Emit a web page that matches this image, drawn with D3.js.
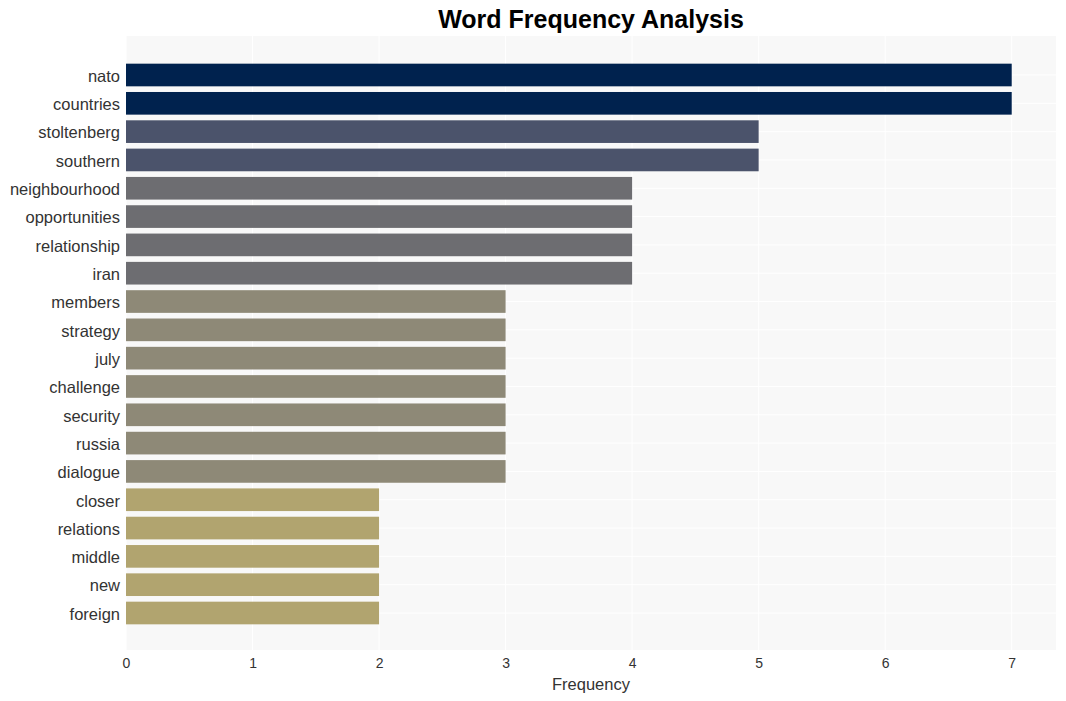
<!DOCTYPE html>
<html><head><meta charset="utf-8">
<script src="https://cdn.jsdelivr.net/npm/d3@7"></script>
<style>body{margin:0;background:#fff}svg{display:block}</style>
</head><body>
<svg id="c" width="1066" height="701"></svg>
<script>
const words = ["nato","countries","stoltenberg","southern","neighbourhood","opportunities","relationship","iran","members","strategy","july","challenge","security","russia","dialogue","closer","relations","middle","new","foreign"];
const counts = [7,7,5,5,4,4,4,4,3,3,3,3,3,3,3,2,2,2,2,2];
const xTicks = [0,1,2,3,4,5,6,7];
const colorByCount = {7:"#00224e",5:"#4b536b",4:"#6d6d71",3:"#8e8977",2:"#b1a46f"};

const svg = d3.select("#c");
const L=126, R=1056, T=36, B=650;
const x = d3.scaleLinear().domain([0,7.35]).range([L,R]);
const y = d3.scaleBand().domain(words).range([60.84,627.16]).paddingInner(0.2).paddingOuter(0.1);

svg.append("rect").attr("x",L).attr("y",T).attr("width",R-L).attr("height",B-T).attr("fill","#f8f8f8");
svg.append("g").selectAll("line").data(xTicks).join("line")
  .attr("x1",d=>x(d)).attr("x2",d=>x(d)).attr("y1",T).attr("y2",B)
  .attr("stroke","#fff").attr("stroke-width",1);
svg.append("g").selectAll("line").data(words).join("line")
  .attr("x1",L).attr("x2",R).attr("y1",d=>y(d)+y.bandwidth()/2).attr("y2",d=>y(d)+y.bandwidth()/2)
  .attr("stroke","#fff").attr("stroke-width",1);

svg.append("g").selectAll("rect").data(words).join("rect")
  .attr("x",x(0)).attr("y",d=>y(d)).attr("height",y.bandwidth())
  .attr("width",(d,i)=>x(counts[i])-x(0))
  .attr("fill",(d,i)=>colorByCount[counts[i]]);

const yAxis = svg.append("g").attr("transform",`translate(${L},1.5)`)
  .call(d3.axisLeft(y).tickSize(0).tickPadding(6));
yAxis.select(".domain").remove();
yAxis.selectAll("text").attr("font-family","Liberation Sans, Arial, sans-serif").attr("font-size",16.5).attr("fill","#333");

const xAxis = svg.append("g").attr("transform",`translate(0,${B+2})`)
  .call(d3.axisBottom(x).tickValues(xTicks).tickFormat(d3.format("d")).tickSize(0).tickPadding(6));
xAxis.select(".domain").remove();
xAxis.selectAll("text").attr("font-family","Liberation Sans, Arial, sans-serif").attr("font-size",14).attr("fill","#333");

svg.append("text").attr("x",(L+R)/2).attr("y",689.5).attr("text-anchor","middle")
  .attr("font-family","Liberation Sans, Arial, sans-serif").attr("font-size",16.5).attr("fill","#333").text("Frequency");
svg.append("text").attr("x",(L+R)/2).attr("y",28).attr("text-anchor","middle")
  .attr("font-family","Liberation Sans, Arial, sans-serif").attr("font-size",25).attr("font-weight","bold").attr("fill","#000").text("Word Frequency Analysis");
</script>
</body></html>
